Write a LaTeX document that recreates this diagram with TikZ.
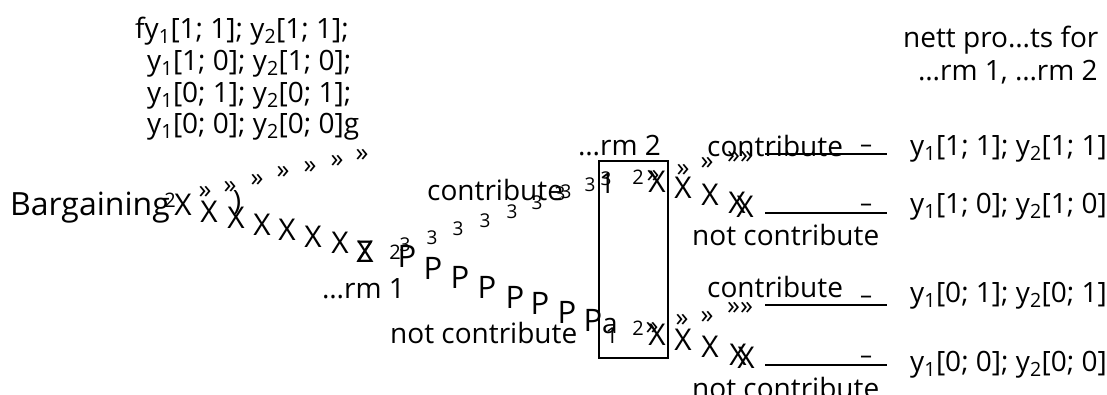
\documentclass[tikz,border=0pt]{standalone}
\usepackage{fontspec}
\setmainfont{Open Sans}
\newcommand{\ys}[2]{y\textsubscript{#1}[#2]}

\begin{document}
\begin{tikzpicture}[x=1pt,y=-1pt,
  txt/.style={inner sep=0pt,anchor=base west,font=\fontsize{28}{34}\selectfont},
  xglyph/.style={inner sep=0pt,font=\fontsize{30}{34}\selectfont},
  gglyph/.style={inner sep=0pt,font=\fontsize{26}{30}\selectfont},
  pglyph/.style={inner sep=0pt,font=\fontsize{31}{36}\selectfont},
  tglyph/.style={inner sep=0pt,font=\fontsize{19}{22}\selectfont},
  branch/.style={line width=2pt}]
  \useasboundingbox (0,0) rectangle (1107,394);

  % the set of outcomes
  \node[txt] (set1) at (135,38) {f\ys{1}{1; 1}; \ys{2}{1; 1};};
  \node[txt] (set2) at (147,70) {\ys{1}{1; 0}; \ys{2}{1; 0};};
  \node[txt] (set3) at (147,102) {\ys{1}{0; 1}; \ys{2}{0; 1};};
  \node[txt] (set4) at (147,133) {\ys{1}{0; 0}; \ys{2}{0; 0}g};

  % firm 1
  \node[txt,font=\fontsize{32}{36}\selectfont] (bargain) at (10,215) {Bargaining};
  \node[txt] (contr1) at (427,200) {contribute};
  \node[txt] (firm1) at (322,298) {\ldots rm 1};
  \node[txt] (ncontr1) at (390,343) {not contribute};

  % firm 2
  \node[txt] (firm2) at (578,155) {\ldots rm 2};
  \draw[line width=2pt] (599,161) rectangle (668,358);
  \node[txt] (contr2) at (707,156) {contribute};
  \node[txt] (ncontr2) at (692,245) {not contribute};
  \node[txt] (contr3) at (707,297) {contribute};
  \node[txt] (ncontr3) at (692,398) {not contribute};

  % payoffs
  \node[txt] (head1) at (903,47) {nett pro\ldots ts for};
  \node[txt] (head2) at (918,80) {\ldots rm 1, \ldots rm 2};
  \node[txt] (pay1) at (910,155) {\ys{1}{1; 1}; \ys{2}{1; 1}};
  \node[txt] (pay2) at (910,213) {\ys{1}{1; 0}; \ys{2}{1; 0}};
  \node[txt] (pay3) at (910,302) {\ys{1}{0; 1}; \ys{2}{0; 1}};
  \node[txt] (pay4) at (910,371) {\ys{1}{0; 0}; \ys{2}{0; 0}};

  \foreach \i/\y in {1/154,2/213,3/305,4/365} {
    \coordinate (bs\i) at (765,\y);
    \coordinate (be\i) at (887,\y);
    \draw[branch] (bs\i) -- (be\i);
    \node[tglyph,font=\fontsize{24}{28}\selectfont] (dash\i) at (866,\y-5) {--};
  }

  % line pieces
  \foreach \x/\y [count=\n] in {183/205,209/212,236/218,262/225,287/230,313/237,340/243,365/252,
      657/182,683/188,710/195,737/203,745/207,657/335,683/340,710/347,738/355,746/358}
    \node[xglyph] (xg\n) at (\x,\y) {X};
  \foreach \x/\y [count=\n] in {205/192,230/187,257/180,283/172,310/167,337/161,362/155,
      653/176,683/170,707/163,652/328,682/320,707/317}
    \node[gglyph] (gg\n) at (\x,\y) {»};
  \node[gglyph] (gg14) at (740,157) {»»};
  \node[gglyph] (gg15) at (740,308) {»»};
  \foreach \x/\y [count=\n] in {407/256,433/268,460/277,487/287,515/297,540/303,567/312,593/320}
    \node[pglyph] (pg\n) at (\x,\y) {P};
  \foreach \x/\y [count=\n] in {405/245,432/238,458/229,485/221,512/212,537/203,560/194,566/192,590/185,606/179}
    \node[tglyph] (tg\n) at (\x,\y) {3};
  \foreach \x/\y [count=\n] in {170/200,395/252,638/177,638/328}
    \node[tglyph,font=\fontsize{20}{24}\selectfont] (two\n) at (\x,\y) {2};
  \node[xglyph] (zg) at (365,252) {Z};
  \node[xglyph,font=\fontsize{28}{32}\selectfont] (paren) at (237,203) {)};
  \node[txt,anchor=center] (one1) at (607,184) {1};
  \node[txt,anchor=center] (ag) at (610,326) {a};
  \node[xglyph,font=\fontsize{22}{26}\selectfont] (one2) at (612,336) {1};
\end{tikzpicture}
\end{document}
